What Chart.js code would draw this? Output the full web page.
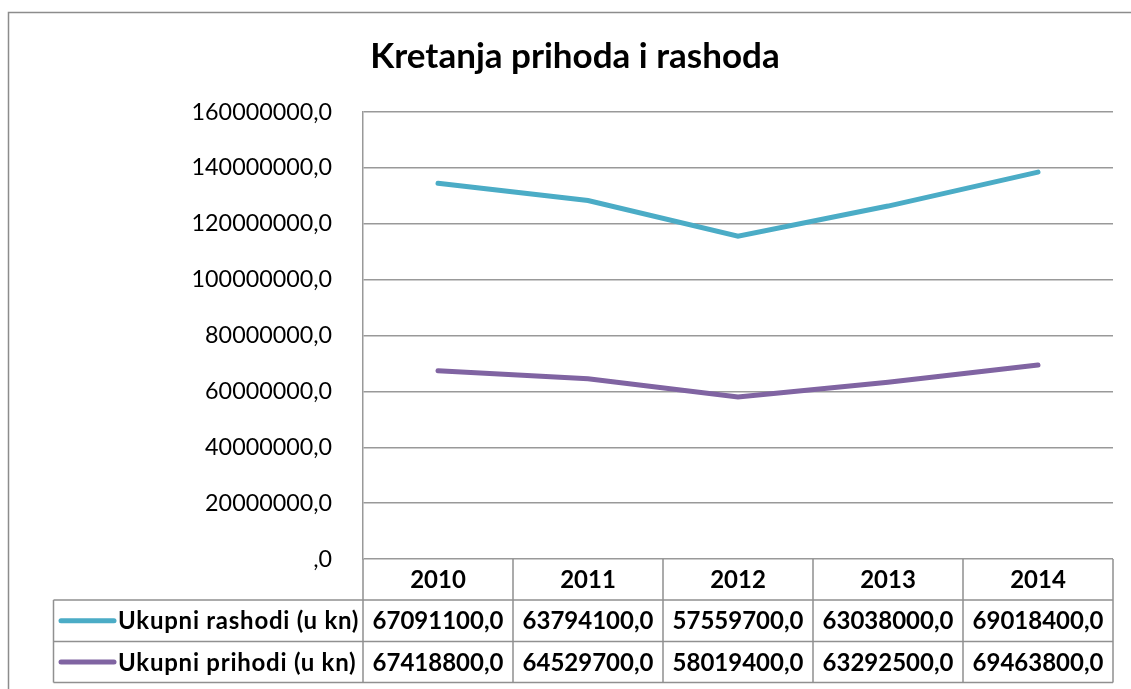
<!DOCTYPE html>
<html>
<head>
<meta charset="utf-8">
<script src="https://cdn.jsdelivr.net/npm/chart.js@4"></script>
<style>
  html, body { margin: 0; padding: 0; background: #fff; }
  #wrap { width: 1131px; height: 689px; }
</style>
</head>
<body>
<div id="wrap"><canvas id="chart" width="1131" height="689"></canvas></div>
<script>
// chart data
const years = ['2010', '2011', '2012', '2013', '2014'];
const rashodi = [67091100.0, 63794100.0, 57559700.0, 63038000.0, 69018400.0];
const prihodi = [67418800.0, 64529700.0, 58019400.0, 63292500.0, 69463800.0];
const rashodiLabel = 'Ukupni rashodi (u kn)';
const prihodiLabel = 'Ukupni prihodi (u kn)';
const chartTitle = 'Kretanja prihoda i rashoda';

const FONT = 'Lato, "Open Sans", sans-serif';
const BLUE = '#4BACC6';
const PURPLE = '#8064A2';
const GRID = '#999999';

function fmt(v) {
    if (v === 0) return ',0';
    return v.toFixed(1).replace('.', ',');
}

// title, outer frame and the data table under the axis
const tablePlugin = {
    id: 'dataTable',
    afterDraw(chart) {
        const ctx = chart.ctx;
        const x = chart.scales.x;
        const area = chart.chartArea;
        const step = x.getPixelForValue(1) - x.getPixelForValue(0);
        const left = 53.5;
        const top = area.bottom;
        const r1 = 600;
        const r2 = 641.5;
        const r3 = 682.5;

        ctx.save();
        // outer frame
        ctx.strokeStyle = '#8c8c8c';
        ctx.lineWidth = 1.5;
        ctx.strokeRect(8.5, 12.5, 1300, 800);

        // title
        ctx.fillStyle = '#000';
        ctx.font = 'bold 35px ' + FONT;
        ctx.textAlign = 'center';
        ctx.textBaseline = 'middle';
        ctx.fillText(chartTitle, 575, 57);

        // table grid
        ctx.strokeStyle = '#909090';
        ctx.lineWidth = 1.5;
        ctx.beginPath();
        ctx.moveTo(left, r1); ctx.lineTo(area.right, r1);
        ctx.moveTo(left, r2); ctx.lineTo(area.right, r2);
        ctx.moveTo(left, r3); ctx.lineTo(area.right, r3);
        ctx.moveTo(left, r1); ctx.lineTo(left, r3);
        for (let i = 0; i <= years.length; i++) {
            const px = x.getPixelForValue(0) - step / 2 + i * step;
            ctx.moveTo(px, top); ctx.lineTo(px, r3);
        }
        ctx.stroke();

        // header + values
        ctx.fillStyle = '#000';
        ctx.font = 'bold 24px ' + FONT;
        ctx.textAlign = 'center';
        years.forEach((y, i) => {
            const cx = x.getPixelForValue(i);
            ctx.fillText(y, cx, (top + r1) / 2 + 1);
            ctx.fillText(fmt(rashodi[i]), cx, (r1 + r2) / 2 + 1);
            ctx.fillText(fmt(prihodi[i]), cx, (r2 + r3) / 2 + 1);
        });

        // legend keys
        const rows = [[rashodiLabel, BLUE, (r1 + r2) / 2], [prihodiLabel, PURPLE, (r2 + r3) / 2]];
        rows.forEach(([label, color, cy]) => {
            ctx.strokeStyle = color;
            ctx.lineWidth = 5;
            ctx.lineCap = 'round';
            ctx.beginPath();
            ctx.moveTo(61, cy); ctx.lineTo(114, cy);
            ctx.stroke();
            ctx.textAlign = 'left';
            ctx.letterSpacing = '0.75px';
            ctx.fillText(label, 118, cy + 1);
            ctx.letterSpacing = '0px';
        });
        ctx.restore();
    }
};

new Chart(document.getElementById('chart'), {
    type: 'line',
    data: {
        labels: years,
        datasets: [{
            label: prihodiLabel,
            data: prihodi,
            borderColor: PURPLE,
            backgroundColor: PURPLE,
            borderWidth: 5,
            borderCapStyle: 'round',
            pointRadius: 0,
            tension: 0,
            fill: false,
        }, {
            label: rashodiLabel,
            data: rashodi,
            borderColor: BLUE,
            backgroundColor: BLUE,
            borderWidth: 5,
            borderCapStyle: 'round',
            pointRadius: 0,
            tension: 0,
            fill: false,
        }]
    },
    options: {
        responsive: false,
        animation: false,
        layout: { padding: { left: 0, top: 112, right: 18, bottom: 130 } },
        plugins: {
            legend: { display: false },
            title: { display: false },
            tooltip: { enabled: false }
        },
        scales: {
            x: {
                offset: true,
                grid: { display: false, drawTicks: false },
                border: { display: false },
                ticks: { display: false }
            },
            y: {
                stacked: true,
                min: 0,
                max: 160000000,
                afterFit(scale) { scale.width = 363; },
                grid: { color: GRID, lineWidth: 1.5, drawTicks: false },
                border: { display: true, color: GRID, width: 1.5 },
                ticks: {
                    stepSize: 20000000,
                    padding: 31,
                    color: '#000',
                    font: { family: FONT, size: 23.3 },
                    callback: v => fmt(v)
                }
            }
        }
    },
    plugins: [tablePlugin]
});
</script>
</body>
</html>
